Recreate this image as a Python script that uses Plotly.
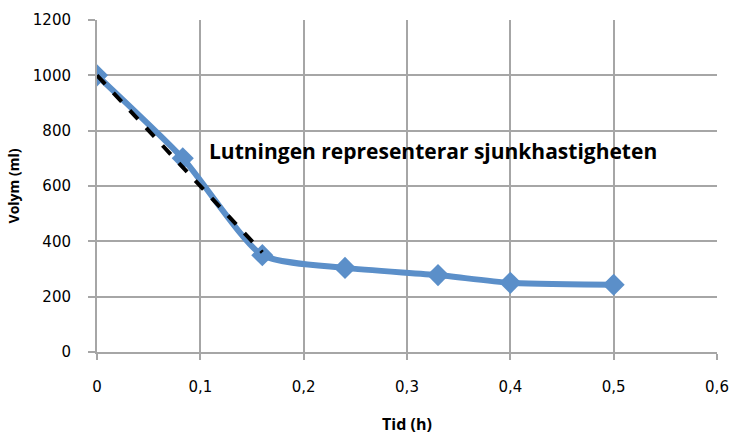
import plotly.graph_objects as go

tid = [0, 0.083, 0.16, 0.24, 0.33, 0.40, 0.50]
volym = [1000, 700, 350, 304, 278, 250, 243]
trend_x = [0, 0.16]
trend_y = [1000, 360]
annot_text = "Lutningen representerar sjunkhastigheten"
x_ticks = [0, 0.1, 0.2, 0.3, 0.4, 0.5, 0.6]
x_labels = ["0", "0,1", "0,2", "0,3", "0,4", "0,5", "0,6"]
y_ticks = [0, 200, 400, 600, 800, 1000, 1200]

blue = "#5B8FC9"
fig = go.Figure()
fig.add_trace(go.Scatter(x=tid, y=volym, mode="lines+markers",
                         line=dict(color=blue, width=6, shape="spline", smoothing=0.6),
                         marker=dict(symbol="diamond", size=17, color=blue),
                         showlegend=False))
fig.add_trace(go.Scatter(x=trend_x, y=trend_y, mode="lines",
                         line=dict(color="black", width=4, dash="dash"),
                         showlegend=False))
fig.add_annotation(x=0.106, y=728, xref="x", yref="y", text="<b>" + annot_text + "</b>",
                   showarrow=False, xanchor="left", yanchor="middle",
                   font=dict(family="Open Sans", size=21, color="black"))
fig.update_layout(
    width=731, height=439,
    margin=dict(l=97, r=14, t=20, b=87),
    paper_bgcolor="white", plot_bgcolor="white",
    font=dict(family="DejaVu Sans", size=15, color="black"),
    xaxis=dict(range=[0, 0.6], tickvals=x_ticks, ticktext=x_labels,
               showgrid=True, gridcolor="#A6A6A6", gridwidth=2,
               showline=True, linecolor="#A6A6A6", linewidth=2,
               ticks="outside", ticklen=6, tickcolor="#A6A6A6", tickwidth=2,
               ticklabelstandoff=14, automargin=False, ticklabeloverflow="allow",
               zeroline=False,
               title=dict(text="<b>Tid (h)</b>", font=dict(family="Open Sans", size=16), standoff=24)),
    yaxis=dict(range=[0, 1200], tickvals=y_ticks,
               showgrid=True, gridcolor="#A6A6A6", gridwidth=2,
               showline=True, linecolor="#A6A6A6", linewidth=2,
               ticks="outside", ticklen=7, tickcolor="#A6A6A6", tickwidth=2,
               ticklabelstandoff=14, automargin=False,
               zeroline=False,
               title=dict(text="<b>Volym (ml)</b>", font=dict(family="Open Sans", size=14), standoff=10)),
)
fig.write_html("out.html")
